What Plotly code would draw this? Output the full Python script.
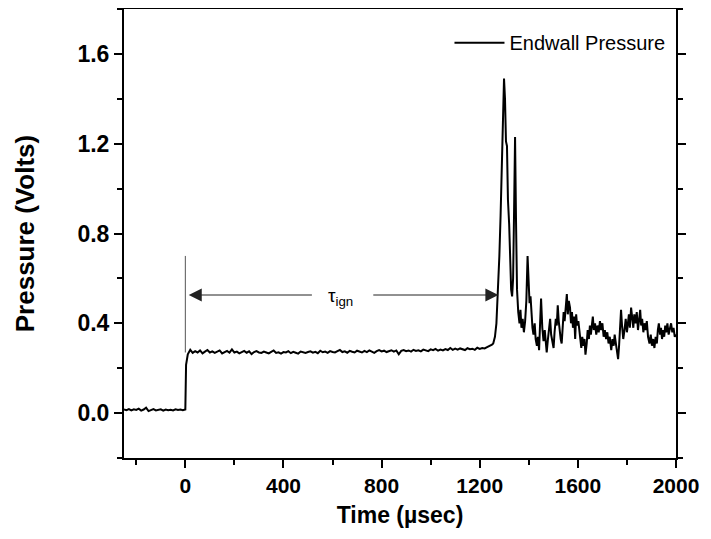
import plotly.graph_objects as go

# ---------------- data ----------------
# pre-shock baseline, t = -250 ... -10 us (10 us sampling)
t_pre = list(range(-250, 0, 10))
p_pre = [0.016, 0.013, 0.018, 0.012, 0.017, 0.014, 0.020, 0.011, 0.016, 0.024,
         0.009, 0.015, 0.018, 0.012, 0.014, 0.017, 0.011, 0.016, 0.013, 0.015,
         0.012, 0.017, 0.014, 0.016, 0.013]

# shock arrival
t_step = [0, 3, 6]
p_step = [0.016, 0.215, 0.245]

# post-reflected-shock plateau, t = 10 ... 1250 us (10 us sampling)
t_flat = list(range(10, 1260, 10))
p_flat = [0.262, 0.282, 0.268, 0.276, 0.270, 0.279, 0.266, 0.274, 0.281, 0.270,
          0.275, 0.268, 0.272, 0.279, 0.266, 0.273, 0.277, 0.269, 0.284, 0.270,
          0.274, 0.266, 0.271, 0.277, 0.269, 0.275, 0.263, 0.272, 0.276, 0.270,
          0.268, 0.274, 0.270, 0.266, 0.273, 0.279, 0.268, 0.271, 0.265, 0.272,
          0.270, 0.276, 0.267, 0.273, 0.269, 0.265, 0.274, 0.270, 0.268, 0.272,
          0.275, 0.269, 0.273, 0.267, 0.278, 0.271, 0.274, 0.268, 0.276, 0.272,
          0.270, 0.276, 0.281, 0.272, 0.275, 0.269, 0.277, 0.273, 0.270, 0.278,
          0.274, 0.270, 0.277, 0.272, 0.279, 0.274, 0.268, 0.276, 0.281, 0.275,
          0.278, 0.272, 0.276, 0.280, 0.274, 0.279, 0.262, 0.277, 0.281, 0.276,
          0.279, 0.274, 0.282, 0.277, 0.280, 0.275, 0.283, 0.279, 0.276, 0.284,
          0.280, 0.286, 0.278, 0.283, 0.279, 0.285, 0.281, 0.290, 0.282, 0.287,
          0.283, 0.288, 0.284, 0.281, 0.289, 0.285, 0.287, 0.282, 0.291, 0.286,
          0.290, 0.288, 0.294, 0.298, 0.305]

# ignition and post-ignition region
t_ign = [1255, 1262, 1268, 1274, 1280, 1285, 1290, 1295, 1299, 1303, 1307, 1311,
         1315, 1320, 1324, 1328, 1332, 1336, 1340, 1344, 1348, 1352, 1357, 1362,
         1366, 1370, 1375, 1380, 1385, 1390, 1395, 1399, 1403, 1407, 1411, 1415,
         1419, 1424, 1428, 1433, 1437, 1442, 1446, 1450, 1455, 1460, 1465, 1469,
         1473, 1478, 1482, 1487, 1491, 1496, 1501, 1505, 1510, 1514, 1518, 1522,
         1526, 1530, 1534, 1538, 1542, 1546, 1550, 1555, 1559, 1563, 1568, 1572,
         1576, 1580, 1585, 1589, 1593, 1597, 1602, 1607, 1611, 1614, 1618, 1622,
         1627, 1631, 1636, 1640, 1645, 1649, 1653, 1657, 1661, 1665, 1670, 1675,
         1680, 1685, 1690, 1695, 1700, 1705, 1710, 1715, 1720, 1725, 1730, 1736,
         1741, 1746, 1750, 1755, 1760, 1764, 1768, 1772, 1776, 1780, 1785, 1790,
         1795, 1800, 1804, 1808, 1812, 1817, 1821, 1826, 1830, 1835, 1840, 1845,
         1850, 1854, 1858, 1862, 1867, 1871, 1876, 1881, 1886, 1892, 1897, 1902,
         1907, 1912, 1917, 1922, 1926, 1930, 1935, 1939, 1943, 1948, 1952, 1956,
         1960, 1965, 1970, 1975, 1980, 1985, 1990, 1995, 2000]
p_ign = [0.31, 0.34, 0.40, 0.52, 0.70, 0.88, 1.10, 1.30, 1.49, 1.40, 1.21, 1.19,
         0.95, 0.84, 0.70, 0.55, 0.52, 0.60, 0.90, 1.23, 0.85, 0.55, 0.45, 0.40,
         0.46, 0.38, 0.42, 0.36, 0.41, 0.50, 0.70, 0.58, 0.49, 0.52, 0.44, 0.38,
         0.35, 0.40, 0.33, 0.30, 0.34, 0.28, 0.40, 0.51, 0.38, 0.32, 0.37, 0.30,
         0.27, 0.33, 0.38, 0.42, 0.35, 0.31, 0.29, 0.36, 0.42, 0.39, 0.48, 0.41,
         0.36, 0.33, 0.31, 0.37, 0.45, 0.41, 0.49, 0.53, 0.44, 0.50, 0.47, 0.40,
         0.45, 0.38, 0.43, 0.33, 0.44, 0.39, 0.41, 0.36, 0.32, 0.29, 0.34, 0.30,
         0.33, 0.26, 0.31, 0.37, 0.33, 0.39, 0.35, 0.40, 0.43, 0.37, 0.40, 0.35,
         0.39, 0.36, 0.41, 0.37, 0.40, 0.34, 0.37, 0.33, 0.36, 0.31, 0.34, 0.28,
         0.33, 0.30, 0.35, 0.31, 0.27, 0.24, 0.30, 0.38, 0.46, 0.39, 0.33, 0.37,
         0.42, 0.36, 0.40, 0.44, 0.38, 0.47, 0.43, 0.38, 0.44, 0.40, 0.45, 0.37,
         0.42, 0.46, 0.39, 0.42, 0.36, 0.40, 0.37, 0.41, 0.34, 0.31, 0.35, 0.30,
         0.33, 0.29, 0.34, 0.31, 0.37, 0.40, 0.35, 0.38, 0.33, 0.37, 0.34, 0.39,
         0.36, 0.40, 0.35, 0.38, 0.40, 0.36, 0.38, 0.34, 0.35]

time_us = t_pre + t_step + t_flat + t_ign
pressure_v = p_pre + p_step + p_flat + p_ign

series_name = "Endwall Pressure"
x_ticks = [0, 400, 800, 1200, 1600, 2000]
y_ticks = [0.0, 0.4, 0.8, 1.2, 1.6]
y_tick_labels = ["0.0", "0.4", "0.8", "1.2", "1.6"]

# annotation (ignition delay marker)
marker_t0 = 0
marker_y_bottom, marker_y_top = 0.27, 0.70
arrow_y = 0.526
arrow_left_tip, arrow_left_tail = 14, 522
arrow_right_tail, arrow_right_tip = 760, 1276
tau_label_t = 631

# ---------------- figure ----------------
FONT = "Arial"

fig = go.Figure()
fig.add_trace(go.Scatter(
    x=time_us, y=pressure_v, mode="lines", name=series_name,
    line=dict(color="black", width=2), showlegend=True))

axis_common = dict(
    showline=True, linecolor="black", linewidth=2, mirror="allticks",
    ticks="outside", ticklen=8, tickwidth=1.5, tickcolor="black",
    showgrid=False, zeroline=False, automargin=False,
)

fig.update_xaxes(
    range=[-250, 2000], tickmode="array", tickvals=x_ticks,
    ticktext=[str(v) for v in x_ticks],
    tickfont=dict(family=FONT, size=21, color="black", weight="bold"),
    minor=dict(dtick=200, tick0=0, ticks="outside", ticklen=5, tickwidth=1.5, tickcolor="black"),
    title=dict(text="Time (\u00b5sec)", standoff=11,
               font=dict(family=FONT, size=23, color="black", weight="bold")),
    **axis_common)
fig.update_yaxes(
    range=[-0.2, 1.8], tickmode="array", tickvals=y_ticks, ticktext=y_tick_labels,
    tickfont=dict(family=FONT, size=23, color="black", weight="bold"),
    minor=dict(dtick=0.2, tick0=0, ticks="outside", ticklen=5, tickwidth=1.5, tickcolor="black"),
    title=dict(text="Pressure (Volts)", standoff=35,
               font=dict(family=FONT, size=26, color="black", weight="bold")),
    **axis_common)

fig.add_shape(type="line", xref="x", yref="y",
              x0=marker_t0, x1=marker_t0, y0=marker_y_bottom, y1=marker_y_top,
              line=dict(color="#555555", width=1))

for tip, tail in [(arrow_left_tip, arrow_left_tail), (arrow_right_tip, arrow_right_tail)]:
    fig.add_annotation(x=tip, y=arrow_y, ax=tail, ay=arrow_y, xref="x", yref="y",
                       axref="x", ayref="y", text="", showarrow=True,
                       arrowhead=2, arrowsize=2.6, arrowwidth=1, arrowcolor="#222222")

fig.add_annotation(x=tau_label_t, y=arrow_y, xref="x", yref="y",
                   text="\u03c4<sub>ign</sub>", showarrow=False,
                   font=dict(family=FONT, size=19, color="black"),
                   yshift=-2)

# the page body adds an 8 px offset, so the figure is sized to fit the window
fig.update_layout(
    width=703, height=531,
    paper_bgcolor="white", plot_bgcolor="white",
    margin=dict(l=116, r=35, t=1, b=81),
    legend=dict(x=0.99, y=0.925, xanchor="right", yanchor="middle",
                bgcolor="rgba(0,0,0,0)", borderwidth=0, itemwidth=50,
                font=dict(family=FONT, size=20, color="black")),
)

fig.write_html("out.html")
